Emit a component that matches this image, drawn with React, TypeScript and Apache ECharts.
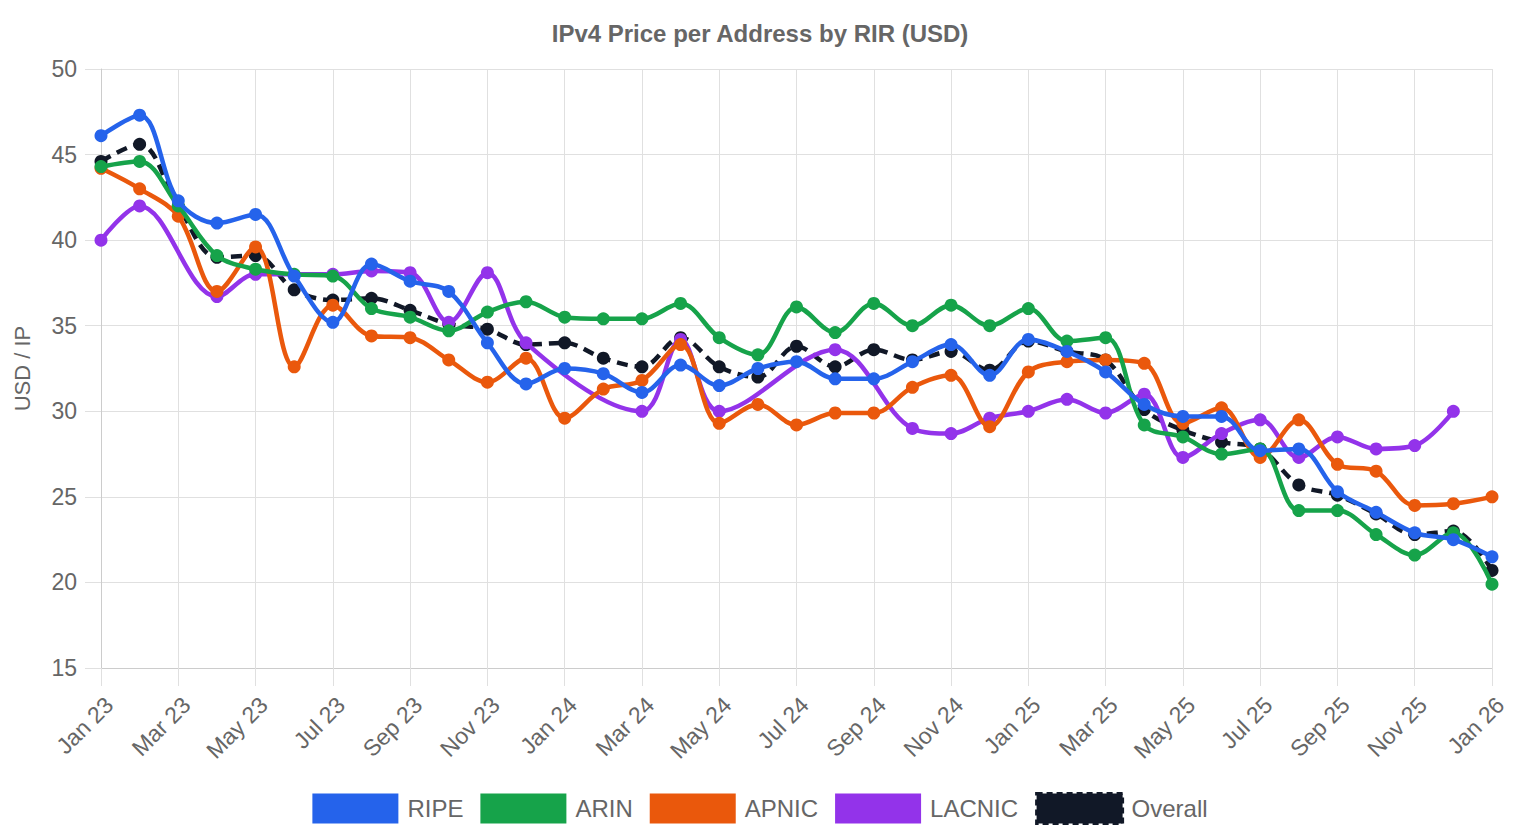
import React, { useEffect, useRef } from "react";
import * as echarts from "echarts";

const months = [
  "Jan 23", "Feb 23", "Mar 23", "Apr 23", "May 23", "Jun 23", "Jul 23", "Aug 23", "Sep 23", "Oct 23", "Nov 23", "Dec 23",
  "Jan 24", "Feb 24", "Mar 24", "Apr 24", "May 24", "Jun 24", "Jul 24", "Aug 24", "Sep 24", "Oct 24", "Nov 24", "Dec 24",
  "Jan 25", "Feb 25", "Mar 25", "Apr 25", "May 25", "Jun 25", "Jul 25", "Aug 25", "Sep 25", "Oct 25", "Nov 25", "Dec 25",
  "Jan 26",
];

const ripe = [46.1, 47.3, 42.3, 41.0, 41.5, 37.9, 35.2, 38.6, 37.6, 37.0, 34.0, 31.6, 32.5, 32.2, 31.1, 32.7, 31.5, 32.5, 32.9, 31.9, 31.9, 32.9, 33.9, 32.1, 34.2, 33.5, 32.3, 30.4, 29.7, 29.7, 27.7, 27.8, 25.3, 24.1, 22.9, 22.5, 21.5];
const arin = [44.3, 44.6, 42.0, 39.1, 38.3, 38.0, 37.9, 36.0, 35.5, 34.7, 35.8, 36.4, 35.5, 35.4, 35.4, 36.3, 34.3, 33.3, 36.1, 34.6, 36.3, 35.0, 36.2, 35.0, 36.0, 34.1, 34.3, 29.2, 28.5, 27.5, 27.8, 24.2, 24.2, 22.8, 21.6, 22.9, 19.9];
const apnic = [44.2, 43.0, 41.4, 37.0, 39.6, 32.6, 36.2, 34.4, 34.3, 33.0, 31.7, 33.1, 29.6, 31.3, 31.8, 33.9, 29.3, 30.4, 29.2, 29.9, 29.9, 31.4, 32.1, 29.1, 32.3, 32.9, 33.0, 32.8, 29.3, 30.2, 27.3, 29.5, 26.9, 26.5, 24.5, 24.6, 25.0];
const lacnic = [40.0, 42.0, null, 36.7, 38.0, null, 38.0, 38.2, 38.1, 35.2, 38.1, 34.0, null, null, 30.0, 34.2, 30.0, null, null, 33.6, null, 29.0, 28.7, 29.6, 30.0, 30.7, 29.9, 31.0, 27.3, 28.7, 29.5, 27.3, 28.5, 27.8, 28.0, 30.0, null];
const overall = [44.6, 45.6, 42.0, 39.0, 39.1, 37.1, 36.5, 36.6, 35.9, 35.1, 34.8, 33.9, 34.0, 33.1, 32.6, 34.3, 32.6, 32.0, 33.8, 32.6, 33.6, 33.0, 33.5, 32.4, 34.1, 33.5, 33.0, 30.1, 28.9, 28.2, 27.8, 25.7, 25.1, 24.0, 22.8, 23.0, 20.7];

const FONT = "'Liberation Sans', Arial, Helvetica, sans-serif";
const TXT = "#666666";
const GRID = "#e0e0e0";

export default function App() {
  const ref = useRef<HTMLDivElement>(null);
  useEffect(() => {
    document.body.style.margin = "0";
    const chart = echarts.init(ref.current!, null, { renderer: "svg" });
    const mk = (name: string, data: (number | null)[], color: string, z: number, dashed = false) => ({
      name,
      type: "line",
      data,
      z,
      smooth: 0.35,
      connectNulls: true,
      symbol: "circle",
      symbolSize: 13,
      itemStyle: { color },
      lineStyle: { color, width: 4.5, type: dashed ? [11, 7] : "solid" },
      emphasis: { disabled: true },
    });
    chart.setOption({
      animation: false,
      textStyle: { fontFamily: FONT },
      title: {
        text: "IPv4 Price per Address by RIR (USD)",
        left: "center",
        top: 16,
        textStyle: { fontFamily: FONT, fontSize: 24, fontWeight: "bold", color: TXT },
      },
      grid: { left: 101, right: 28, top: 69, bottom: 172, containLabel: false },
      legend: {
        bottom: 10,
        left: "center",
        icon: "rect",
        itemWidth: 86,
        itemHeight: 30,
        itemGap: 17,
        itemStyle: { borderWidth: 0 },
        textStyle: { fontFamily: FONT, fontSize: 24, color: TXT, padding: [0, 0, 0, 4] },
        data: [
          { name: "RIPE" },
          { name: "ARIN" },
          { name: "APNIC" },
          { name: "LACNIC" },
          { name: "Overall", itemStyle: { color: "#111827", borderColor: "#111827", borderWidth: 3, borderType: [6, 4] } },
        ],
      },
      xAxis: {
        type: "category",
        data: months,
        boundaryGap: false,
        axisLine: { show: true, lineStyle: { color: "#cccccc", width: 1 } },
        axisTick: { show: true, interval: 1, length: 18, lineStyle: { color: GRID } },
        splitLine: { show: true, interval: 1, lineStyle: { color: GRID } },
        axisLabel: { interval: 1, rotate: 45, margin: 25, verticalAlign: "top", fontSize: 23, color: TXT, fontFamily: FONT },
      },
      yAxis: {
        type: "value",
        min: 15,
        max: 50,
        interval: 5,
        name: "USD / IP",
        nameLocation: "middle",
        nameGap: 68,
        nameTextStyle: { fontFamily: FONT, fontSize: 22, color: TXT },
        axisLine: { show: true, lineStyle: { color: "#cccccc", width: 1 } },
        axisTick: { show: true, length: 16, lineStyle: { color: GRID } },
        splitLine: { show: true, lineStyle: { color: GRID } },
        axisLabel: { margin: 24, fontSize: 23, color: TXT, fontFamily: FONT },
      },
      series: [
        mk("RIPE", ripe, "#2563eb", 7),
        mk("ARIN", arin, "#16a34a", 6),
        mk("APNIC", apnic, "#ea580c", 5),
        mk("LACNIC", lacnic, "#9333ea", 4),
        mk("Overall", overall, "#111827", 3, true),
      ],
    });
    return () => chart.dispose();
  }, []);
  return <div ref={ref} style={{ width: 1520, height: 840 }} />;
}
